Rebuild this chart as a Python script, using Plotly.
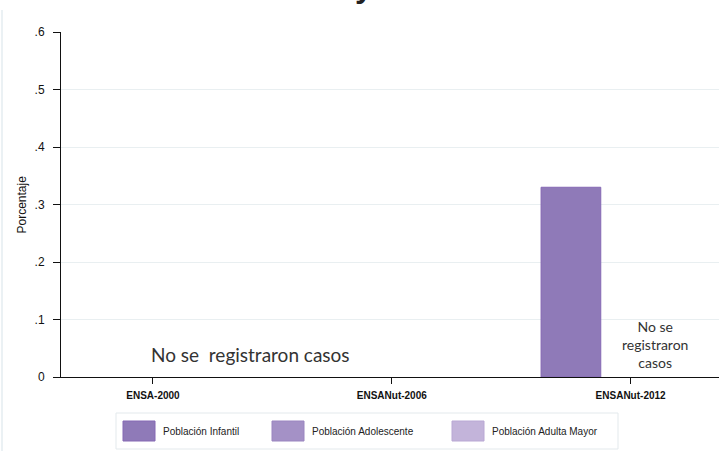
import plotly.graph_objects as go

categories = ["ENSA-2000", "ENSANut-2006", "ENSANut-2012"]
infantil = [None, None, 0.33]
adolescente = [None, None, None]
adulta_mayor = [None, None, None]
series_names = ["Población Infantil", "Población Adolescente", "Población Adulta Mayor"]
y_ticks = [0, 0.1, 0.2, 0.3, 0.4, 0.5, 0.6]
y_tick_labels = ["0", ".1", ".2", ".3", ".4", ".5", ".6"]
note_text = "No se\u00a0 registraron casos"
note_text_2012 = "No se<br>registraron<br>casos"

fills = ["#8f7ab8", "#a491c6", "#c3b4da"]
lines = ["#8568b4", "#9a85c0", "#b9a8d4"]

W, H = 719, 451
ML, MR, MT, MB = 61, 0, 32, 74
PW, PH = W - ML - MR, H - MT - MB


def px_x(px):
    return (px - ML) / PW


def px_y(py):
    return (H - MB - py) / PH


xpos = list(range(len(categories)))
fig = go.Figure()
for name, vals, fc, lc in zip(series_names, [infantil, adolescente, adulta_mayor], fills, lines):
    fig.add_trace(go.Bar(
        x=xpos, y=vals, name=name, showlegend=False,
        marker=dict(color=fc, line=dict(color=lc, width=1)),
    ))

fig.update_layout(
    width=W, height=H,
    margin=dict(l=ML, r=MR, t=MT, b=MB, autoexpand=False),
    paper_bgcolor="white", plot_bgcolor="white",
    barmode="group", bargap=0.25, bargroupgap=0,
    font=dict(family="Liberation Sans, Arial", color="#222"),
    showlegend=False,
    xaxis=dict(
        range=[-0.385, 2.37], tickmode="array", tickvals=xpos, ticktext=categories,
        showline=True, linecolor="#111", linewidth=1, ticks="outside", ticklen=6,
        tickcolor="#111", showgrid=False, zeroline=False, automargin=False,
        ticklabelstandoff=3,
        tickfont=dict(size=10, family="Liberation Sans, Arial", color="#111", weight="bold"),
    ),
    yaxis=dict(
        range=[0, 0.6], tickmode="array", tickvals=y_ticks, ticktext=y_tick_labels,
        showline=True, linecolor="#111", linewidth=1, ticks="outside", ticklen=7,
        tickcolor="#111", showgrid=True, gridcolor="#e9eff1", gridwidth=1, zeroline=False,
        automargin=False, ticklabelstandoff=6,
        tickfont=dict(size=12, color="#111"),
    ),
)

# y axis title
fig.add_annotation(x=px_x(21), y=0.5, xref="paper", yref="paper", text="Porcentaje",
                   textangle=-90, showarrow=False, xanchor="center", yanchor="middle",
                   font=dict(size=12, color="#111"))

fig.add_annotation(x=0.408, y=0.04, xref="x", yref="y", text=note_text, showarrow=False,
                   font=dict(family="Lato, Noto Sans", size=19, color="#333"))
fig.add_annotation(x=2.10, y=0.056, xref="x", yref="y", text=note_text_2012, showarrow=False,
                   font=dict(family="Lato, Noto Sans", size=14, color="#333"))

# cut-off title glyph at the top
fig.add_annotation(x=px_x(364), y=1.0, xref="paper", yref="paper", text="y", showarrow=False,
                   font=dict(family="Liberation Sans", size=32, color="#222", weight="bold"),
                   xanchor="center", yanchor="bottom", yshift=26)

# left light border line
fig.add_shape(type="line", xref="paper", yref="paper",
              x0=px_x(2), x1=px_x(2), y0=px_y(451), y1=px_y(10),
              line=dict(color="#e4ecf0", width=1.5))

# legend box
fig.add_shape(type="rect", xref="paper", yref="paper",
              x0=px_x(116), x1=px_x(618), y0=px_y(449), y1=px_y(413),
              line=dict(color="#e3e9ec", width=1), fillcolor="white", layer="below")
sw_x = [123, 272, 452]
for sx, name, fc, lc in zip(sw_x, series_names, fills, lines):
    fig.add_shape(type="rect", xref="paper", yref="paper",
                  x0=px_x(sx), x1=px_x(sx + 32), y0=px_y(441), y1=px_y(421),
                  line=dict(color=lc, width=1), fillcolor=fc)
    fig.add_annotation(x=px_x(sx + 38), y=px_y(431), xref="paper", yref="paper", text=name,
                       showarrow=False, xanchor="left", yanchor="middle",
                       font=dict(size=10, color="#222"))

fig.write_html("out.html", config={"displayModeBar": False},
               post_script="document.body.style.margin='0';")
